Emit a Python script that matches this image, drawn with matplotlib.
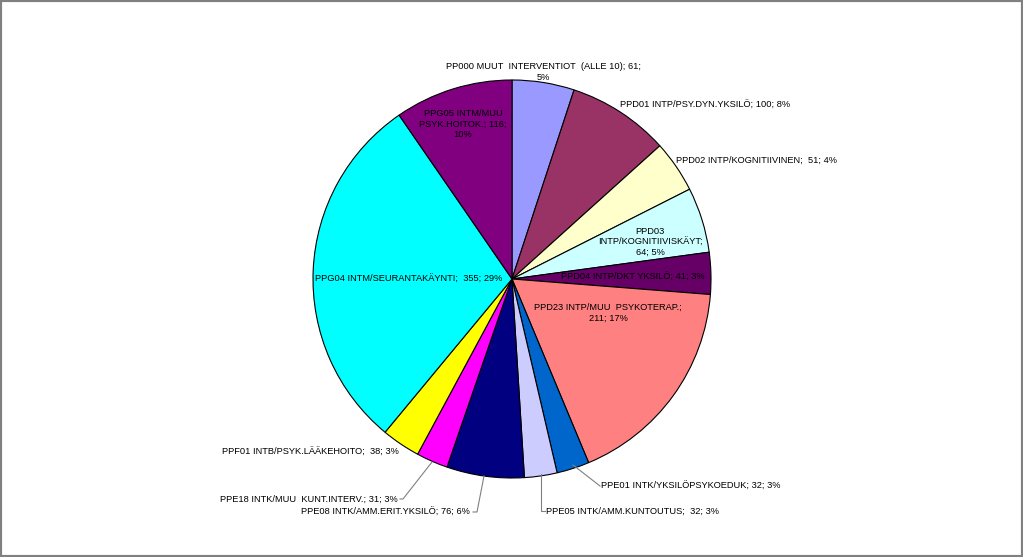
import matplotlib
matplotlib.use("Agg")
import matplotlib.pyplot as plt
from matplotlib.patches import Rectangle

plt.rcParams['font.family'] = ['Liberation Sans', 'DejaVu Sans']

codes = ["PP000 MUUT  INTERVENTIOT  (ALLE 10)", "PPD01 INTP/PSY.DYN.YKSILÖ",
         "PPD02 INTP/KOGNITIIVINEN", "PPD03 INTP/KOGNITIIVISKÄYT",
         "PPD04 INTP/DKT YKSILÖ", "PPD23 INTP/MUU  PSYKOTERAP.",
         "PPE01 INTK/YKSILÖPSYKOEDUK", "PPE05 INTK/AMM.KUNTOUTUS",
         "PPE08 INTK/AMM.ERIT.YKSILÖ", "PPE18 INTK/MUU  KUNT.INTERV.",
         "PPF01 INTB/PSYK.LÄÄKEHOITO", "PPG04 INTM/SEURANTAKÄYNTI",
         "PPG05 INTM/MUU PSYK.HOITOK."]
counts = [61, 100, 51, 64, 41, 211, 32, 32, 76, 31, 38, 355, 116]
colors = ["#9999FF", "#993366", "#FFFFCC", "#CCFFFF", "#660066", "#FF8080",
          "#0066CC", "#CCCCFF", "#000080", "#FF00FF", "#FFFF00", "#00FFFF",
          "#800080"]

W, H = 1023, 557
fig = plt.figure(figsize=(W / 100, H / 100), dpi=100)
ax = fig.add_axes([0, 0, 1, 1])

cx, cy, r = 512, H - 279, 199
ax.pie(counts, colors=colors, startangle=90, counterclock=False,
       center=(cx, cy), radius=r,
       wedgeprops=dict(edgecolor='black', linewidth=0.8))
ax.set_xlim(0, W)
ax.set_ylim(0, H)
ax.set_aspect('equal')
ax.axis('off')

total = sum(counts)
pct = [round(c / total * 100) for c in counts]

def P(x, y):
    # pixel coords (top-left origin) -> data
    return x, H - y

txt = dict(fontsize=6.7, color='black', linespacing=1.2)

# (text, x, y, ha)
labels = [
    (f"{codes[0]}; {counts[0]};\n{pct[0]}%", 543, 72, 'center'),
    (f"{codes[1]}; {counts[1]}; {pct[1]}%", 620, 105, 'left'),
    (f"{codes[2]};  {counts[2]}; {pct[2]}%", 676, 160, 'left'),
    (f"PPD03\nINTP/KOGNITIIVISKÄYT;\n{counts[3]}; {pct[3]}%", 650, 242, 'center'),
    (f"{codes[4]}; {counts[4]}; {pct[4]}%", 633, 277, 'center'),
    (f"{codes[5]};\n{counts[5]}; {pct[5]}%", 608, 313, 'center'),
    (f"{codes[6]}; {counts[6]}; {pct[6]}%", 601, 486, 'left'),
    (f"{codes[7]};  {counts[7]}; {pct[7]}%", 546, 511, 'left'),
    (f"{codes[8]}; {counts[8]}; {pct[8]}%", 470, 512, 'right'),
    (f"{codes[9]}; {counts[9]}; {pct[9]}%", 398, 499, 'right'),
    (f"{codes[10]};  {counts[10]}; {pct[10]}%", 399, 452, 'right'),
    (f"{codes[11]};  {counts[11]}; {pct[11]}%", 409, 279, 'center'),
    (f"PPG05 INTM/MUU\nPSYK.HOITOK.; {counts[12]};\n{pct[12]}%", 463, 124, 'center'),
]
for s, x, y, ha in labels:
    ax.text(*P(x, y), s, ha=ha, va='center', multialignment='center', **txt)

# leader lines
leaders = [
    [(573, 465), (600, 486)],
    [(541, 474), (541, 511), (545, 511)],
    [(484, 476), (477, 512), (473, 512)],
    [(432, 462), (403, 499), (400, 499)],
]
for pts in leaders:
    xs = [p[0] for p in pts]
    ys = [H - p[1] for p in pts]
    ax.plot(xs, ys, color='#808080', linewidth=0.8)

fig.patches.append(Rectangle((0, 0), 1, 1, transform=fig.transFigure,
                             fill=False, edgecolor='#808080', linewidth=3))
fig.savefig("out.png", dpi=100)
